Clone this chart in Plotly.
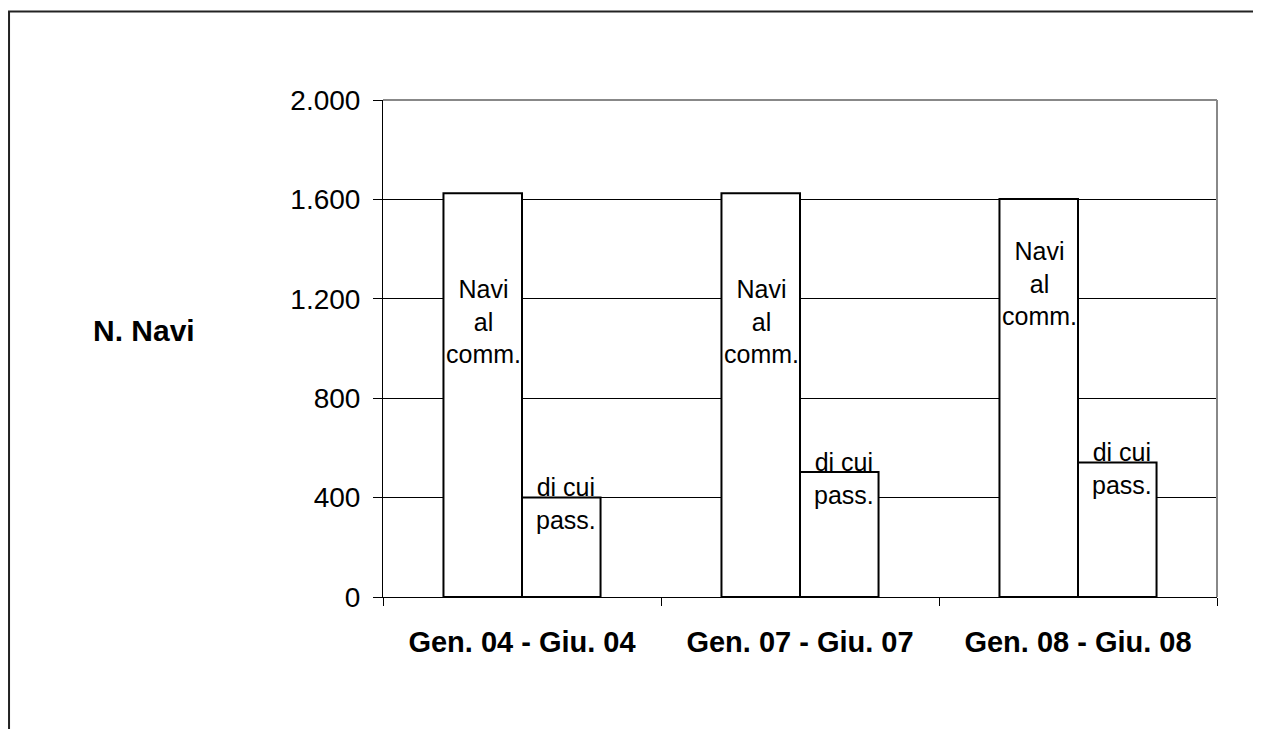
import plotly.graph_objects as go

# dati
periodi = ["Gen. 04 - Giu. 04", "Gen. 07 - Giu. 07", "Gen. 08 - Giu. 08"]
navi_comm = [1625, 1625, 1602]
di_cui_pass = [400, 503, 541]
nome_comm = "Navi<br>al<br>comm."
nome_pass = "di cui<br>pass."
y_ticks = [0, 400, 800, 1200, 1600, 2000]

# spostamento (px) delle etichette dalla cima della barra
shift_comm = [-80, -80, -36]

FONT = "Liberation Sans, Arial, sans-serif"

fig = go.Figure()

fig.add_trace(go.Bar(
    x=periodi, y=navi_comm, name="Navi al comm.",
    marker=dict(color="white", line=dict(color="black", width=2)),
))
fig.add_trace(go.Bar(
    x=periodi, y=di_cui_pass, name="di cui pass.",
    marker=dict(color="white", line=dict(color="black", width=2)),
))

# etichette dentro le barre
for i, p in enumerate(periodi):
    fig.add_annotation(
        x=p, y=navi_comm[i], xref="x", yref="y", text=nome_comm,
        showarrow=False, xshift=-39, yshift=shift_comm[i], yanchor="top",
        font=dict(family=FONT, size=25, color="black"),
    )
    fig.add_annotation(
        x=p, y=di_cui_pass[i], xref="x", yref="y", text=nome_pass,
        showarrow=False, xshift=44, yshift=-6, yanchor="middle",
        font=dict(family=FONT, size=25, color="black"),
    )

# titolo asse y orizzontale
fig.add_annotation(
    x=-0.287, y=0.537, xref="paper", yref="paper", text="<b>N. Navi</b>",
    xanchor="center", yanchor="middle",
    showarrow=False, font=dict(family=FONT, size=30, color="black"),
)

# bordo esterno
fig.add_shape(type="rect", xref="paper", yref="paper",
              x0=-0.4484, x1=1.08, y0=-0.32, y1=1.178,
              line=dict(color="#222222", width=2))
# bordo area grafico (grigio)
fig.add_shape(type="line", xref="paper", yref="paper",
              x0=0, x1=1, y0=1, y1=1, line=dict(color="#888888", width=2))
fig.add_shape(type="line", xref="paper", yref="paper",
              x0=1, x1=1, y0=0, y1=1, line=dict(color="#888888", width=2))

fig.update_layout(
    width=1261,
    height=729,
    margin=dict(l=375, r=52, t=92, b=140),
    paper_bgcolor="white",
    plot_bgcolor="white",
    showlegend=False,
    separators=",.",
    bargap=0.435,
    bargroupgap=0,
    barmode="group",
    font=dict(family=FONT, color="black"),
    xaxis=dict(
        showline=True, linecolor="black", linewidth=1,
        ticks="outside", tickson="boundaries", ticklen=8, tickcolor="black",
        showgrid=False,
        tickfont=dict(family=FONT, size=29, color="black", weight="bold"),
        ticklabelstandoff=19,
    ),
    yaxis=dict(
        range=[0, 2000], tickvals=y_ticks, tickformat=",d",
        showline=True, linecolor="black", linewidth=1,
        ticks="outside", ticklen=9, tickcolor="black",
        showgrid=True, gridcolor="black", gridwidth=1,
        zeroline=False,
        tickfont=dict(family=FONT, size=28, color="black"),
        ticklabelstandoff=7,
    ),
)

fig.write_html("out.html")
